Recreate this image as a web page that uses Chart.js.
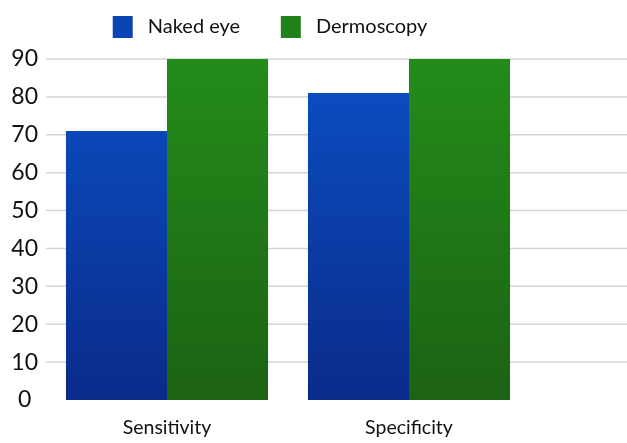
<!DOCTYPE html>
<html>
<head>
<meta charset="utf-8">
<script src="https://cdn.jsdelivr.net/npm/chart.js@4/dist/chart.umd.min.js"></script>
<style>
  html, body { margin: 0; padding: 0; background: #fff; }
  #wrap { width: 627px; height: 443px; position: relative; }
</style>
</head>
<body>
<div id="wrap"><canvas id="c"></canvas></div>
<script>
// Categories, series and axis ticks
const categories = ['Sensitivity', 'Specificity'];
const nakedEye = [71, 81];
const dermoscopy = [90, 90];
const seriesNames = ['Naked eye', 'Dermoscopy'];
const yTicks = [0, 10, 20, 30, 40, 50, 60, 70, 80, 90];

const FONT = 'Lato, "Open Sans", sans-serif';
const GRID = '#d4d4d4';

function vGradient(ctx, top, bottom) {
  const chart = ctx.chart;
  const area = chart.chartArea;
  if (!area) return top;
  const g = chart.ctx.createLinearGradient(0, area.top, 0, area.bottom);
  g.addColorStop(0, top);
  g.addColorStop(1, bottom);
  return g;
}

// Horizontal grid lines run from the value axis to the right edge of the canvas
const fullWidthGrid = {
  id: 'fullWidthGrid',
  beforeDatasetsDraw(chart) {
    const y = chart.scales.y;
    const ctx = chart.ctx;
    ctx.save();
    ctx.strokeStyle = GRID;
    ctx.lineWidth = 1.5;
    yTicks.forEach(v => {
      if (v === 0) return;
      const py = y.getPixelForValue(v);
      ctx.beginPath();
      ctx.moveTo(chart.chartArea.left, py);
      ctx.lineTo(chart.width, py);
      ctx.stroke();
    });
    ctx.restore();
  }
};

// Extra room under the legend, and legend centred a little to the right
const legendSpacing = {
  id: 'legendSpacing',
  beforeInit(chart) {
    const legend = chart.legend;
    const origFit = legend.fit;
    legend.fit = function () {
      origFit.call(this);
      this.height += 11;
    };
  },
  afterLayout(chart) {
    chart.legend.left += 5;
    chart.legend.right += 5;
  }
};

new Chart(document.getElementById('c'), {
  type: 'bar',
  data: {
    labels: categories,
    datasets: [
      {
        label: seriesNames[0],
        data: nakedEye,
        backgroundColor: ctx => vGradient(ctx, '#0b4fc4', '#0a2b8a'),
        borderWidth: 0
      },
      {
        label: seriesNames[1],
        data: dermoscopy,
        backgroundColor: ctx => vGradient(ctx, '#238c1a', '#1c6213'),
        borderWidth: 0
      }
    ]
  },
  options: {
    responsive: true,
    maintainAspectRatio: false,
    animation: false,
    layout: { padding: { top: 6, right: 97, bottom: 3, left: 0 } },
    datasets: {
      bar: { categoryPercentage: 0.835, barPercentage: 1.0 }
    },
    plugins: {
      tooltip: { enabled: false },
      legend: {
        position: 'top',
        labels: {
          boxWidth: 20,
          boxHeight: 22,
          padding: 10,
          color: '#111',
          font: { family: FONT, size: 20 },
          generateLabels(chart) {
            const items = Chart.defaults.plugins.legend.labels.generateLabels(chart);
            const fills = ['#0b45b5', '#21801a'];
            items.forEach((it, i) => {
              it.fillStyle = fills[i];
              it.strokeStyle = fills[i];
              it.lineWidth = 0;
              it.text = ' ' + it.text + (i === 0 ? '      ' : '');
            });
            return items;
          }
        }
      }
    },
    scales: {
      x: {
        afterFit(scale) { scale.height = 40; },
        grid: { display: false, drawTicks: false },
        border: { display: false },
        ticks: {
          color: '#111',
          padding: 16,
          font: { family: FONT, size: 19.5 }
        }
      },
      y: {
        min: 0,
        max: 90,
        afterFit(scale) { scale.width = 46; },
        afterBuildTicks(scale) { scale.ticks = yTicks.map(v => ({ value: v })); },
        grid: { display: false, drawTicks: false },
        border: { display: false },
        ticks: {
          color: '#111',
          padding: 8,
          crossAlign: 'center',
          font: { family: FONT, size: 23 }
        }
      }
    }
  },
  plugins: [fullWidthGrid, legendSpacing]
});
</script>
</body>
</html>
